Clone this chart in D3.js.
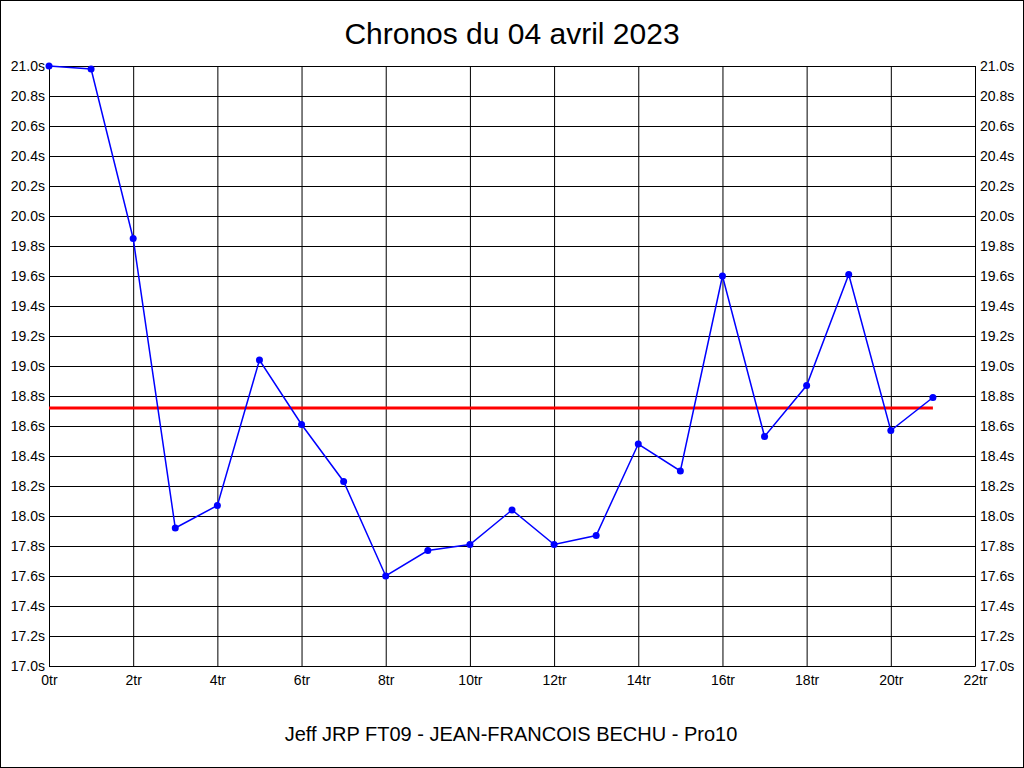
<!DOCTYPE html>
<html>
<head>
<meta charset="utf-8">
<script src="https://cdn.jsdelivr.net/npm/d3@7"></script>
<style>
  body { margin: 0; background: #fff; }
  svg { display: block; font-family: "Liberation Sans", Arial, sans-serif; }
  .tick text { font-size: 14px; fill: #000; }
</style>
</head>
<body>
<div id="chart-container"></div>
<script>
// tours (x) and chrono in seconds (y)
const laps = [0, 1, 2, 3, 4, 5, 6, 7, 8, 9, 10, 11, 12, 13, 14, 15, 16, 17, 18, 19, 20, 21]
const times = [21.00, 20.98, 19.85, 17.92, 18.07, 19.04, 18.61, 18.23, 17.60, 17.77, 17.81,
               18.04, 17.81, 17.87, 18.48, 18.30, 19.60, 18.53, 18.87, 19.61, 18.57, 18.79]
const average = 18.72
const xTicks = [0, 2, 4, 6, 8, 10, 12, 14, 16, 18, 20, 22]
const yTicks = [17.0, 17.2, 17.4, 17.6, 17.8, 18.0, 18.2, 18.4, 18.6, 18.8, 19.0,
                19.2, 19.4, 19.6, 19.8, 20.0, 20.2, 20.4, 20.6, 20.8, 21.0]
const title = "Chronos du 04 avril 2023"
const subtitle = "Jeff JRP FT09 - JEAN-FRANCOIS BECHU - Pro10"

const w = 1024, h = 768
const m = { left: 49, right: 49, top: 66, bottom: 102 }

const svg = d3.select('#chart-container')
  .append('svg')
  .attr('width', w)
  .attr('height', h)

// outer frame
svg.append('rect')
  .attr('x', 0.5).attr('y', 0.5)
  .attr('width', w - 1).attr('height', h - 1)
  .attr('fill', '#fff').attr('stroke', '#000')

const xScale = d3.scaleLinear().domain([0, 22]).range([m.left, w - m.right])
const yScale = d3.scaleLinear().domain([17, 21]).range([h - m.bottom, m.top])

// grid
svg.append('g')
  .attr('transform', `translate(0, ${m.top})`)
  .call(d3.axisBottom(xScale).tickValues(xTicks).tickSize(h - m.bottom - m.top).tickFormat(''))
  .call(g => g.select('.domain').remove())
  .call(g => g.selectAll('line').attr('stroke', '#000'))

svg.append('g')
  .attr('transform', `translate(${m.left}, 0)`)
  .call(d3.axisRight(yScale).tickValues(yTicks).tickSize(w - m.left - m.right).tickFormat(''))
  .call(g => g.select('.domain').remove())
  .call(g => g.selectAll('line').attr('stroke', '#000'))

// tick labels
const fmtY = d => d.toFixed(1) + 's'
svg.append('g')
  .attr('transform', `translate(${m.left}, 0)`)
  .call(d3.axisLeft(yScale).tickValues(yTicks).tickSize(0).tickPadding(4).tickFormat(fmtY))
  .call(g => g.select('.domain').attr('stroke', '#000'))

svg.append('g')
  .attr('transform', `translate(${w - m.right}, 0)`)
  .call(d3.axisRight(yScale).tickValues(yTicks).tickSize(0).tickPadding(5).tickFormat(fmtY))
  .call(g => g.select('.domain').attr('stroke', '#000'))

svg.append('g')
  .attr('transform', `translate(0, ${h - m.bottom})`)
  .call(d3.axisBottom(xScale).tickValues(xTicks).tickSize(0).tickPadding(9).tickFormat(d => d + 'tr'))
  .call(g => g.select('.domain').attr('stroke', '#000'))

svg.selectAll('.tick text').attr('font-family', '"Liberation Sans", Arial, sans-serif').attr('font-size', 14)

// average line
svg.append('line')
  .attr('x1', xScale(laps[0]))
  .attr('x2', xScale(laps[laps.length - 1]))
  .attr('y1', yScale(average))
  .attr('y2', yScale(average))
  .attr('stroke', '#ff0000')
  .attr('stroke-width', 3)

// lap times
const data = laps.map((l, i) => [l, times[i]])
svg.append('path')
  .datum(data)
  .attr('d', d3.line().x(d => xScale(d[0])).y(d => yScale(d[1])))
  .attr('fill', 'none')
  .attr('stroke', '#0000ff')
  .attr('stroke-width', 1.5)

svg.selectAll('circle.pt')
  .data(data)
  .enter()
  .append('circle')
  .attr('class', 'pt')
  .attr('cx', d => xScale(d[0]))
  .attr('cy', d => yScale(d[1]))
  .attr('r', 3.5)
  .attr('fill', '#0000ff')

// titles
svg.append('text')
  .attr('x', w / 2).attr('y', 44)
  .attr('text-anchor', 'middle')
  .attr('font-size', 30)
  .text(title)

svg.append('text')
  .attr('x', w / 2 - 1).attr('y', 741)
  .attr('text-anchor', 'middle')
  .attr('font-size', 20)
  .text(subtitle)
</script>
</body>
</html>
